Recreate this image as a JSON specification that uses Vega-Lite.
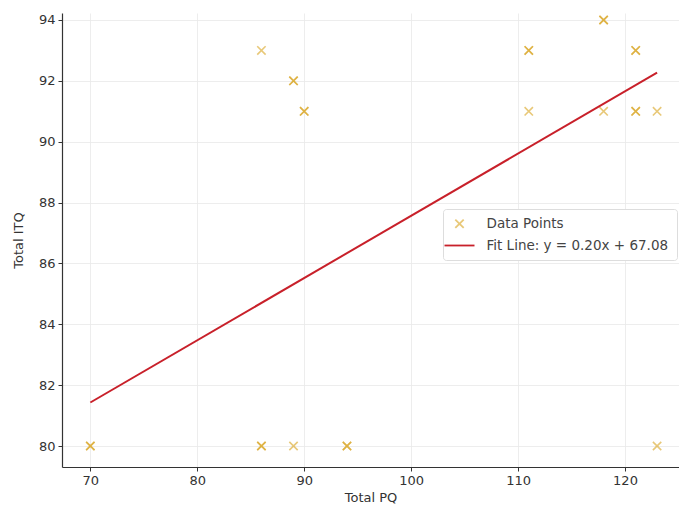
{
  "$schema": "https://vega.github.io/schema/vega-lite/v6.json",
  "width": 617,
  "height": 454,
  "autosize": "none",
  "padding": {"left": 62, "top": 13, "right": 0, "bottom": 42},
  "background": "white",
  "config": {
    "view": {"stroke": null},
    "font": "DejaVu Sans",
    "axis": {
      "labelFont": "DejaVu Sans",
      "titleFont": "DejaVu Sans",
      "labelFontSize": 13,
      "titleFontSize": 13,
      "titleFontWeight": "normal",
      "labelColor": "#333333",
      "titleColor": "#333333",
      "domainColor": "#333333",
      "domainWidth": 1.2,
      "tickColor": "#333333",
      "tickSize": 4,
      "labelPadding": 3,
      "gridColor": "#e8e8e8",
      "gridWidth": 0.8
    },
    "legend": {
      "labelFont": "DejaVu Sans",
      "labelFontSize": 13.5,
      "labelColor": "#444444",
      "labelLimit": 400,
      "symbolFillColor": "transparent",
      "symbolStrokeWidth": 1.8
    }
  },
  "datasets": {
    "points": [
      {"pq": 70, "itq": 80}, {"pq": 70, "itq": 80},
      {"pq": 86, "itq": 80}, {"pq": 86, "itq": 80},
      {"pq": 89, "itq": 80},
      {"pq": 94, "itq": 80}, {"pq": 94, "itq": 80},
      {"pq": 123, "itq": 80},
      {"pq": 86, "itq": 93},
      {"pq": 89, "itq": 92}, {"pq": 89, "itq": 92},
      {"pq": 90, "itq": 91}, {"pq": 90, "itq": 91},
      {"pq": 111, "itq": 93}, {"pq": 111, "itq": 93},
      {"pq": 111, "itq": 91},
      {"pq": 118, "itq": 94}, {"pq": 118, "itq": 94},
      {"pq": 118, "itq": 91},
      {"pq": 121, "itq": 93}, {"pq": 121, "itq": 93},
      {"pq": 121, "itq": 91}, {"pq": 121, "itq": 91},
      {"pq": 123, "itq": 91}
    ],
    "fit": [
      {"pq": 70, "itq": 81.43},
      {"pq": 123, "itq": 92.27}
    ]
  },
  "layer": [
    {
      "data": {"name": "points"},
      "mark": {"type": "point", "filled": false, "strokeWidth": 1.6},
      "encoding": {
        "x": {"field": "pq", "type": "quantitative", "title": "Total PQ",
              "scale": {"domain": [67.35, 125.05], "nice": false, "zero": false},
              "axis": {"values": [70, 80, 90, 100, 110, 120], "titlePadding": 4}},
        "y": {"field": "itq", "type": "quantitative", "title": "Total ITQ",
              "scale": {"domain": [79.31, 94.23], "nice": false, "zero": false},
              "axis": {"values": [80, 82, 84, 86, 88, 90, 92, 94], "titlePadding": 13}},
        "color": {"datum": "Data Points", "type": "nominal",
          "scale": {"domain": ["Data Points", "Fit Line: y = 0.20x + 67.08"], "range": ["#daa520", "#c8202a"]},
          "legend": {
            "title": null,
            "orient": "none",
            "legendX": 381,
            "legendY": 196,
            "padding": 8,
            "rowPadding": 5,
            "fillColor": "white",
            "strokeColor": "#dddddd",
            "cornerRadius": 3,
            "labelOffset": 18.5
          }
        },
        "shape": {"datum": "Data Points", "type": "nominal",
          "scale": {"domain": ["Data Points", "Fit Line: y = 0.20x + 67.08"], "range": ["M-1,-1L1,1M1,-1L-1,1", "M-2,0L2,0"]},
          "legend": {"title": null, "orient": "none", "legendX": 381, "legendY": 196}
        },
        "size": {"datum": "Data Points", "type": "nominal",
          "scale": {"type": "ordinal", "domain": ["Data Points", "Fit Line: y = 0.20x + 67.08"], "range": [70, 225]},
          "legend": {"title": null, "orient": "none", "legendX": 381, "legendY": 196}
        },
        "opacity": {"datum": "Data Points", "type": "nominal",
          "scale": {"type": "ordinal", "domain": ["Data Points", "Fit Line: y = 0.20x + 67.08"], "range": [0.6, 1]},
          "legend": {"title": null, "orient": "none", "legendX": 381, "legendY": 196}
        }
      }
    },
    {
      "data": {"name": "fit"},
      "mark": {"type": "line", "strokeWidth": 2},
      "encoding": {
        "x": {"field": "pq", "type": "quantitative"},
        "y": {"field": "itq", "type": "quantitative"},
        "color": {"datum": "Fit Line: y = 0.20x + 67.08", "type": "nominal"}
      }
    }
  ]
}
